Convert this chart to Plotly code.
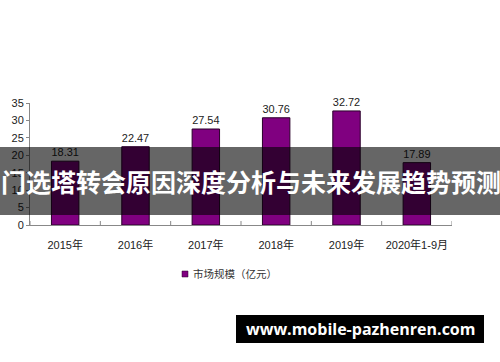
import plotly.graph_objects as go

categories = ["2015年", "2016年", "2017年", "2018年", "2019年", "2020年1-9月"]
values = [18.31, 22.47, 27.54, 30.76, 32.72, 17.89]
series_name = "市场规模（亿元）"
title_text = "门选塔转会原因深度分析与未来发展趋势预测"
site_text = "www.mobile-pazhenren.com"

W, H = 500, 362
L, R, T, B = 30, 48, 103, 137
PW, PH = W - L - R, H - T - B

def px(x):
    return (x - L) / PW

def py(y):
    return (H - B - y) / PH

fig = go.Figure()
fig.add_trace(go.Bar(
    x=categories, y=values, name=series_name,
    marker=dict(color="#800080", line=dict(color="#2a002a", width=1)),
    width=0.39,
    text=[f"{v:.2f}" for v in values], textposition="outside",
    textfont=dict(size=11, color="#222222"), cliponaxis=False,
    showlegend=False,
))

fig.update_layout(
    width=W, height=H,
    margin=dict(l=L, r=R, t=T, b=B, pad=0),
    paper_bgcolor="white", plot_bgcolor="white",
    font=dict(family="Liberation Sans, Arial, Noto Sans CJK SC", size=11, color="#222222"),
    showlegend=False,
    bargap=0.61,
    xaxis=dict(showline=True, linecolor="#888888", linewidth=1, ticks="", showgrid=False,
               tickfont=dict(size=11), range=[-0.5, 5.5], ticklabelstandoff=10),
    yaxis=dict(range=[0, 35], dtick=5, showline=True, linecolor="#888888", linewidth=1,
               ticks="outside", ticklen=3, tickcolor="#888888", showgrid=False,
               tickfont=dict(size=11), zeroline=False),
    shapes=[
        *[dict(type="line", xref="x", yref="paper", x0=i + 0.5, x1=i + 0.5, y0=0, y1=py(221),
               line=dict(color="#888888", width=1)) for i in range(-1, 6)],
        dict(type="rect", xref="paper", yref="paper", x0=px(182), x1=px(188),
             y0=py(277), y1=py(271), fillcolor="#800080", line=dict(color="#2a002a", width=0.5)),
        dict(type="rect", xref="paper", yref="paper", x0=px(0), x1=px(500),
             y0=py(215), y1=py(147), fillcolor="rgba(0,0,0,0.6)", line=dict(width=0),
             layer="above"),
        dict(type="rect", xref="paper", yref="paper", x0=px(236), x1=px(484),
             y0=py(343), y1=py(315), fillcolor="black", line=dict(width=0), layer="above"),
    ],
    annotations=[
        dict(text=series_name, xref="paper", yref="paper", x=px(191), y=py(274),
             xanchor="left", yanchor="middle", showarrow=False,
             font=dict(size=10.5, color="#333333")),
        dict(text=f"<b>{title_text}</b>", xref="paper", yref="paper", x=px(251), y=py(181),
             xanchor="center", yanchor="middle", showarrow=False,
             font=dict(family="Noto Sans CJK SC", size=25, color="white")),
        dict(text=f"<b>{site_text}</b>", xref="paper", yref="paper", x=px(360), y=py(329),
             xanchor="center", yanchor="middle", showarrow=False,
             font=dict(family="Open Sans, DejaVu Sans", size=16, color="white")),
    ],
)

fig.write_html("out.html")
